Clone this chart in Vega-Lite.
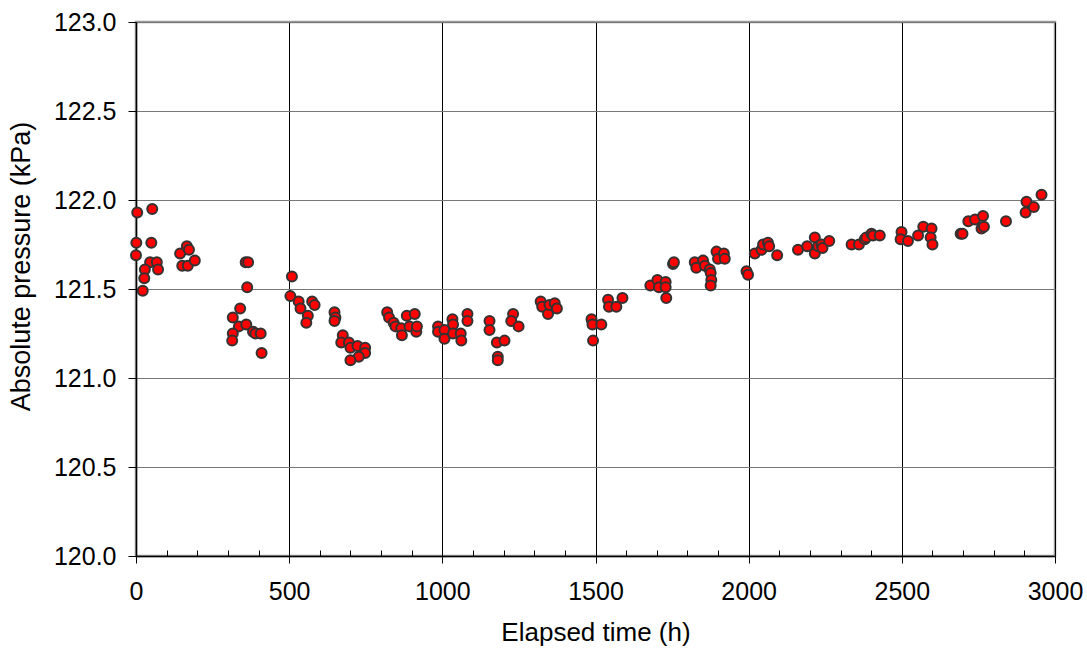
{
  "$schema": "https://vega.github.io/schema/vega-lite/v6.json",
  "width": 919,
  "height": 534,
  "autosize": "none",
  "padding": {"left": 136, "top": 22, "right": 32, "bottom": 92},
  "background": "white",
  "config": {
    "view": {"stroke": "#9a9a9a", "strokeWidth": 2.5},
    "font": "Liberation Sans"
  },
  "data": {
    "values": [
      {"time": 4, "pressure": 121.93}, {"time": 53, "pressure": 121.95}, {"time": 1, "pressure": 121.76}, {"time": 50, "pressure": 121.76},
      {"time": 0, "pressure": 121.69}, {"time": 46, "pressure": 121.65}, {"time": 68, "pressure": 121.65}, {"time": 29, "pressure": 121.61},
      {"time": 72, "pressure": 121.61}, {"time": 27, "pressure": 121.56}, {"time": 22, "pressure": 121.49}, {"time": 144, "pressure": 121.70},
      {"time": 166, "pressure": 121.74}, {"time": 173, "pressure": 121.72}, {"time": 151, "pressure": 121.63}, {"time": 169, "pressure": 121.63},
      {"time": 192, "pressure": 121.66},
      {"time": 358, "pressure": 121.65}, {"time": 366, "pressure": 121.65}, {"time": 363, "pressure": 121.51}, {"time": 340, "pressure": 121.39},
      {"time": 316, "pressure": 121.34}, {"time": 336, "pressure": 121.29}, {"time": 360, "pressure": 121.30}, {"time": 316, "pressure": 121.25},
      {"time": 314, "pressure": 121.21}, {"time": 382, "pressure": 121.26}, {"time": 390, "pressure": 121.25}, {"time": 407, "pressure": 121.25},
      {"time": 410, "pressure": 121.14},
      {"time": 509, "pressure": 121.57}, {"time": 504, "pressure": 121.46}, {"time": 531, "pressure": 121.43}, {"time": 537, "pressure": 121.39},
      {"time": 575, "pressure": 121.43}, {"time": 583, "pressure": 121.41}, {"time": 561, "pressure": 121.35}, {"time": 556, "pressure": 121.31},
      {"time": 648, "pressure": 121.37}, {"time": 651, "pressure": 121.34}, {"time": 648, "pressure": 121.32}, {"time": 675, "pressure": 121.24},
      {"time": 670, "pressure": 121.20}, {"time": 695, "pressure": 121.20}, {"time": 700, "pressure": 121.17}, {"time": 723, "pressure": 121.18},
      {"time": 748, "pressure": 121.17}, {"time": 748, "pressure": 121.14}, {"time": 727, "pressure": 121.12}, {"time": 700, "pressure": 121.10},
      {"time": 820, "pressure": 121.37}, {"time": 826, "pressure": 121.34}, {"time": 841, "pressure": 121.31}, {"time": 847, "pressure": 121.29},
      {"time": 866, "pressure": 121.28}, {"time": 868, "pressure": 121.24}, {"time": 884, "pressure": 121.35}, {"time": 910, "pressure": 121.36},
      {"time": 893, "pressure": 121.29}, {"time": 915, "pressure": 121.26}, {"time": 917, "pressure": 121.29},
      {"time": 986, "pressure": 121.29}, {"time": 986, "pressure": 121.26}, {"time": 1007, "pressure": 121.27}, {"time": 1007, "pressure": 121.22},
      {"time": 1033, "pressure": 121.33}, {"time": 1035, "pressure": 121.30}, {"time": 1035, "pressure": 121.25}, {"time": 1060, "pressure": 121.25},
      {"time": 1062, "pressure": 121.21}, {"time": 1082, "pressure": 121.36}, {"time": 1082, "pressure": 121.32},
      {"time": 1154, "pressure": 121.32}, {"time": 1154, "pressure": 121.27}, {"time": 1178, "pressure": 121.20}, {"time": 1203, "pressure": 121.21},
      {"time": 1181, "pressure": 121.12}, {"time": 1181, "pressure": 121.10}, {"time": 1231, "pressure": 121.36}, {"time": 1225, "pressure": 121.32},
      {"time": 1249, "pressure": 121.29},
      {"time": 1321, "pressure": 121.43}, {"time": 1326, "pressure": 121.40}, {"time": 1345, "pressure": 121.36}, {"time": 1350, "pressure": 121.41},
      {"time": 1367, "pressure": 121.42}, {"time": 1374, "pressure": 121.39},
      {"time": 1487, "pressure": 121.33}, {"time": 1490, "pressure": 121.30}, {"time": 1519, "pressure": 121.30}, {"time": 1492, "pressure": 121.21},
      {"time": 1541, "pressure": 121.44}, {"time": 1544, "pressure": 121.40}, {"time": 1568, "pressure": 121.40}, {"time": 1588, "pressure": 121.45},
      {"time": 1679, "pressure": 121.52}, {"time": 1702, "pressure": 121.55}, {"time": 1707, "pressure": 121.51}, {"time": 1729, "pressure": 121.54},
      {"time": 1729, "pressure": 121.51}, {"time": 1731, "pressure": 121.45}, {"time": 1753, "pressure": 121.64}, {"time": 1756, "pressure": 121.65},
      {"time": 1824, "pressure": 121.65}, {"time": 1829, "pressure": 121.62}, {"time": 1851, "pressure": 121.66}, {"time": 1857, "pressure": 121.63},
      {"time": 1873, "pressure": 121.61}, {"time": 1876, "pressure": 121.59}, {"time": 1878, "pressure": 121.55}, {"time": 1876, "pressure": 121.52},
      {"time": 1895, "pressure": 121.71}, {"time": 1900, "pressure": 121.67}, {"time": 1919, "pressure": 121.70}, {"time": 1922, "pressure": 121.67},
      {"time": 1993, "pressure": 121.60}, {"time": 1998, "pressure": 121.58}, {"time": 2020, "pressure": 121.70}, {"time": 2042, "pressure": 121.72},
      {"time": 2047, "pressure": 121.75}, {"time": 2063, "pressure": 121.76}, {"time": 2067, "pressure": 121.74}, {"time": 2093, "pressure": 121.69},
      {"time": 2161, "pressure": 121.72}, {"time": 2191, "pressure": 121.74}, {"time": 2216, "pressure": 121.79}, {"time": 2216, "pressure": 121.70},
      {"time": 2227, "pressure": 121.74}, {"time": 2238, "pressure": 121.75}, {"time": 2241, "pressure": 121.73}, {"time": 2263, "pressure": 121.77},
      {"time": 2336, "pressure": 121.75}, {"time": 2360, "pressure": 121.75}, {"time": 2379, "pressure": 121.78}, {"time": 2384, "pressure": 121.79},
      {"time": 2401, "pressure": 121.81}, {"time": 2406, "pressure": 121.80}, {"time": 2428, "pressure": 121.80},
      {"time": 2499, "pressure": 121.82}, {"time": 2496, "pressure": 121.78}, {"time": 2520, "pressure": 121.77}, {"time": 2553, "pressure": 121.80},
      {"time": 2570, "pressure": 121.85}, {"time": 2597, "pressure": 121.84}, {"time": 2594, "pressure": 121.79}, {"time": 2600, "pressure": 121.75},
      {"time": 2692, "pressure": 121.81}, {"time": 2698, "pressure": 121.81}, {"time": 2717, "pressure": 121.88}, {"time": 2739, "pressure": 121.89},
      {"time": 2765, "pressure": 121.91}, {"time": 2760, "pressure": 121.84}, {"time": 2768, "pressure": 121.85},
      {"time": 2840, "pressure": 121.88}, {"time": 2907, "pressure": 121.99}, {"time": 2904, "pressure": 121.93}, {"time": 2931, "pressure": 121.96},
      {"time": 2956, "pressure": 122.03}
    ]
  },
  "mark": {"type": "point", "shape": "circle", "filled": true, "fill": "#ff0000", "stroke": "#333333", "strokeWidth": 2, "size": 100, "opacity": 1},
  "encoding": {
    "x": {
      "field": "time",
      "type": "quantitative",
      "scale": {"domain": [0, 3000], "nice": false, "zero": false},
      "axis": {
        "title": "Elapsed time (h)",
        "values": [0,100,200,300,400,500,600,700,800,900,1000,1100,1200,1300,1400,1500,1600,1700,1800,1900,2000,2100,2200,2300,2400,2500,2600,2700,2800,2900,3000],
        "labelExpr": "datum.value % 500 === 0 ? datum.label : ''",
        "format": "d",
        "grid": true,
        "gridColor": "#000000",
        "gridWidth": 1,
        "gridOpacity": {"condition": {"test": "datum.value % 500 === 0", "value": 1}, "value": 0},
        "tickSize": {"condition": {"test": "datum.value % 500 === 0", "value": 7}, "value": -6},
        "tickColor": "#000000",
        "tickWidth": 1,
        "domainColor": "#000000",
        "domainWidth": 1.5,
        "labelFont": "Liberation Sans",
        "labelFontSize": 25,
        "labelColor": "#000000",
        "labelPadding": 16,
        "labelFlush": false,
        "labelOverlap": false,
        "titleFont": "Liberation Sans",
        "titleFontSize": 26,
        "titleFontWeight": "normal",
        "titleColor": "#000000",
        "titlePadding": 15
      }
    },
    "y": {
      "field": "pressure",
      "type": "quantitative",
      "scale": {"domain": [120, 123], "nice": false, "zero": false},
      "axis": {
        "title": "Absolute pressure  (kPa)",
        "values": [120, 120.5, 121, 121.5, 122, 122.5, 123],
        "format": ".1f",
        "grid": true,
        "gridColor": "#777777",
        "gridWidth": 1,
        "tickSize": 8,
        "tickColor": "#000000",
        "domainColor": "#000000",
        "domainWidth": 1.5,
        "labelFont": "Liberation Sans",
        "labelFontSize": 25,
        "labelColor": "#000000",
        "labelPadding": 12,
        "labelFlush": false,
        "labelOverlap": false,
        "titleFont": "Liberation Sans",
        "titleFontSize": 27,
        "titleFontWeight": "normal",
        "titleColor": "#000000",
        "titlePadding": 18,
        "titleY": 244
      }
    }
  }
}
